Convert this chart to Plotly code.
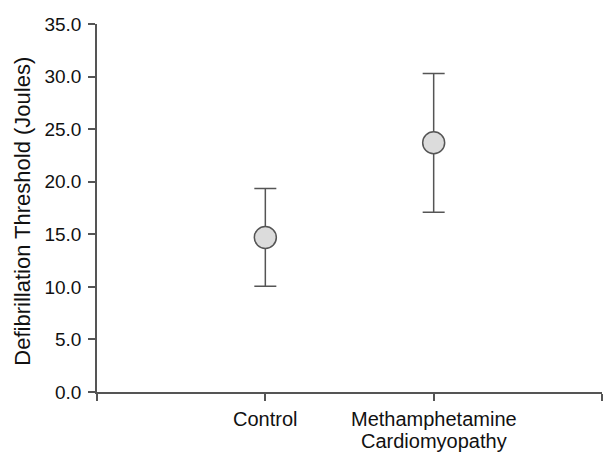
import plotly.graph_objects as go

categories = ["Control", "Methamphetamine<br>Cardiomyopathy"]
x_pos = [1, 2]
means = [14.7, 23.7]
errors = [4.65, 6.6]
y_ticks = [0, 5, 10, 15, 20, 25, 30, 35]

FONT = "Liberation Sans, Arial, sans-serif"
L, R, T, B = 97, 11, 24, 60
W, H = 613, 452

fig = go.Figure()
fig.add_trace(go.Scatter(
    x=x_pos, y=means, mode="markers",
    marker=dict(size=22, color="#dcdcdc", line=dict(color="#555555", width=1.5)),
    error_y=dict(type="data", array=errors, visible=True, color="#555555", thickness=1.5, width=11),
    showlegend=False,
))

fig.update_layout(
    width=W, height=H,
    margin=dict(l=L, r=R, t=T, b=B, autoexpand=False),
    plot_bgcolor="white", paper_bgcolor="white",
    font=dict(family=FONT, size=19, color="#111111"),
    xaxis=dict(
        range=[0, 3], tickvals=[0, 1, 2, 3], ticktext=["", "", "", ""],
        showgrid=False, zeroline=False, showline=True, linecolor="#555555", linewidth=1.5,
        ticks="outside", ticklen=7, tickcolor="#555555", tickwidth=1.5, automargin=False,
    ),
    yaxis=dict(
        range=[0, 35], tickvals=y_ticks, tickformat=".1f",
        showgrid=False, zeroline=False, showline=True, linecolor="#555555", linewidth=1.5,
        ticks="outside", ticklen=7, tickcolor="#555555", tickwidth=1.5, ticklabelstandoff=3,
        tickfont=dict(family=FONT, size=19, color="#111111"), automargin=False,
    ),
)

# category labels (one annotation per text line to match the tight line spacing)
for xp, label in zip(x_pos, categories):
    for i, line in enumerate(label.split("<br>")):
        fig.add_annotation(
            text=line, xref="x", yref="paper", x=xp, y=0,
            xanchor="center", yanchor="middle", yshift=-27 - 22 * i,
            showarrow=False, font=dict(family=FONT, size=20, color="#111111"),
        )

fig.add_annotation(
    text="Defibrillation Threshold (Joules)", textangle=-90,
    xref="paper", yref="paper", x=-(L - 23) / (W - L - R), y=0.49,
    xanchor="center", yanchor="middle", showarrow=False,
    font=dict(family=FONT, size=22, color="#111111"),
)
fig.write_html(
    "out.html",
    config={"displayModeBar": False},
    post_script="document.body.style.margin='0';document.body.style.overflow='hidden';",
)
